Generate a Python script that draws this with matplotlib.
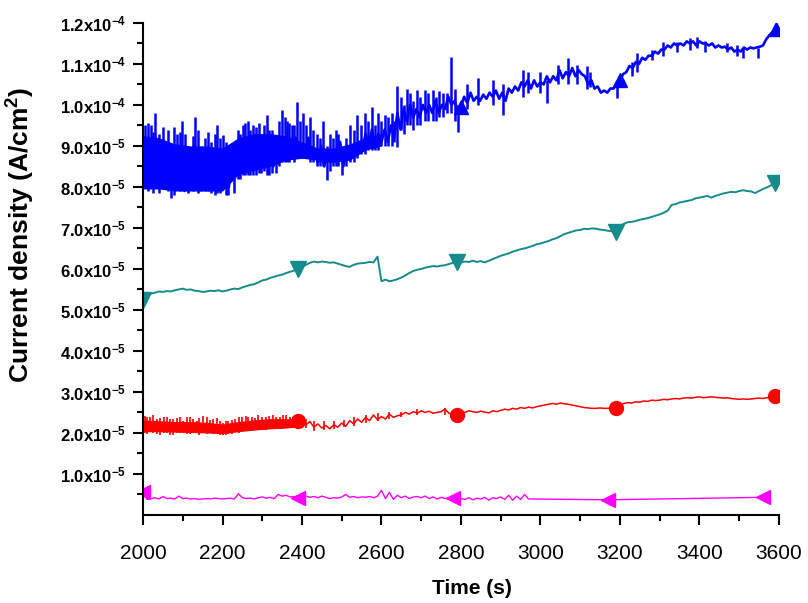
import numpy as np
import matplotlib
matplotlib.use('Agg')
import matplotlib.pyplot as plt
from matplotlib.ticker import FixedLocator, NullFormatter

plt.rcParams['font.family'] = ['Liberation Sans', 'DejaVu Sans']
plt.rcParams['mathtext.fontset'] = 'custom'
plt.rcParams['mathtext.rm'] = 'Liberation Sans'
plt.rcParams['mathtext.bf'] = 'Liberation Sans:bold'
plt.rcParams['mathtext.default'] = 'bf'

SCALE = 1e-5  # values below are in units of 1e-5 A/cm2

# blue series, one value every 8 s from 2000 s
blue = [
    8.90, 8.20, 9.10, 8.00, 9.20, 8.30, 8.90, 8.00, 9.00, 8.20,
    8.80, 8.10, 9.00, 7.90, 8.80, 8.20, 9.00, 8.00, 8.70, 8.00,
    8.80, 8.10, 8.70, 8.00, 8.90, 7.95, 8.80, 8.00, 8.60, 8.30,
    9.10, 8.50, 9.20, 8.40, 9.00, 8.50, 9.20, 8.50, 9.10, 8.60,
    9.10, 8.50, 9.20, 8.70, 9.10, 8.80, 9.00, 8.70, 9.20, 8.80,
    9.00, 8.80, 9.20, 8.70, 8.90, 8.60, 9.00, 8.50, 8.80, 8.60,
    8.90, 8.60, 9.10, 8.50, 8.90, 8.70, 9.00, 8.80, 9.10, 8.90,
    9.30, 9.00, 9.40, 9.00, 9.30, 9.10, 9.40, 9.10, 9.50, 9.20,
    9.80, 9.40, 9.90, 9.60, 10.00, 9.70, 9.90, 9.70, 10.00, 9.80,
    10.00, 9.80, 10.10, 9.80, 10.00, 9.90, 10.20, 10.00, 10.10, 9.85,
    9.95, 10.20, 10.05, 10.30, 10.10, 10.20, 10.10, 10.25, 10.15, 10.30,
    10.20, 10.35, 10.15, 10.30, 10.10, 10.40, 10.30, 10.45, 10.35, 10.55,
    10.45, 10.60, 10.40, 10.60, 10.45, 10.55, 10.50, 10.70, 10.55, 10.70,
    10.60, 10.85, 10.65, 10.80, 10.70, 10.90, 10.70, 10.85, 10.75, 10.70,
    10.50, 10.60, 10.40, 10.45, 10.30, 10.35, 10.30, 10.40, 10.40, 10.55,
    10.60, 10.75, 10.80, 10.95, 10.90, 11.05, 11.00, 11.15, 11.10, 11.20,
    11.20, 11.30, 11.25, 11.35, 11.35, 11.45, 11.40, 11.50, 11.45, 11.50,
    11.45, 11.55, 11.50, 11.55, 11.45, 11.55, 11.50, 11.50, 11.45, 11.50,
    11.40, 11.45, 11.40, 11.42, 11.35, 11.40, 11.30, 11.35, 11.30, 11.40,
    11.35, 11.40, 11.38, 11.40, 11.42, 11.45, 11.60, 11.70, 11.78, 11.85,
]

# solid core of the blue noise, every 40 s from 2000 s to 2600 s
blue_band_lo = [7.95, 7.95, 7.90, 7.90, 7.90, 7.90, 8.30, 8.40, 8.50, 8.65,
                8.70, 8.65, 8.60, 8.65, 8.90, 9.00]
blue_band_hi = [9.25, 9.20, 9.05, 9.00, 9.00, 8.95, 9.20, 9.30, 9.30, 9.25,
                9.10, 8.95, 8.95, 9.05, 9.20, 9.30]

# single noise spikes of the blue series: time, bottom, top
blue_spike_t = [2006, 2012, 2020, 2024, 2030, 2040, 2050, 2062, 2070, 2078,
                2085, 2092, 2098, 2105, 2113, 2125, 2131, 2138, 2145, 2156,
                2163, 2172, 2180, 2186, 2193, 2201, 2208, 2215, 2228, 2238,
                2245, 2252, 2257, 2263, 2270, 2277, 2284, 2291, 2298, 2305,
                2312, 2318, 2325, 2335, 2342, 2350, 2356, 2362, 2368, 2375,
                2381, 2387, 2395, 2403, 2410, 2420, 2428, 2438, 2445, 2453,
                2463, 2470, 2478, 2485, 2491, 2500, 2510, 2521, 2530, 2538,
                2548, 2558, 2566, 2576, 2583, 2591, 2600, 2609, 2617, 2626,
                2632, 2639, 2650, 2657, 2664, 2672, 2680, 2689, 2697, 2710,
                2718, 2730, 2738, 2745, 2755, 2765, 2776, 2785, 2792, 2815,
                2843, 2881, 2906, 2956, 2969, 2999, 3016, 3044, 3070, 3092,
                3117, 3125, 3192, 3230, 3243, 3281, 3309, 3344, 3376, 3394,
                3414, 3469, 3494, 3510, 3547]
blue_spike_lo = [8.00, 7.90, 8.00, 7.85, 8.10, 7.85, 8.00, 7.90, 7.73, 7.80,
                 8.00, 7.90, 8.00, 8.00, 7.85, 7.90, 8.00, 7.85, 7.90, 7.90,
                 7.90, 7.85, 7.80, 7.85, 7.85, 8.00, 7.80, 7.80, 7.85, 8.20,
                 8.20, 8.30, 8.30, 8.30, 8.30, 8.30, 8.30, 8.35, 8.35, 8.40,
                 8.30, 8.30, 8.35, 8.34, 8.50, 8.60, 8.60, 8.60, 8.60, 8.70,
                 8.60, 8.70, 8.70, 8.70, 8.70, 8.60, 8.60, 8.50, 8.50, 8.50,
                 8.17, 8.40, 8.50, 8.50, 8.50, 8.30, 8.50, 8.60, 8.60, 8.70,
                 8.80, 8.80, 8.90, 8.90, 8.90, 8.90, 9.00, 9.00, 9.00, 9.00,
                 9.10, 8.97, 9.40, 9.30, 9.50, 9.50, 9.40, 9.50, 9.50, 9.60,
                 9.60, 9.60, 9.60, 9.70, 9.70, 9.80, 9.80, 9.60, 9.34, 9.90,
                 10.00, 10.00, 9.76, 10.20, 10.30, 10.30, 10.05, 10.50, 10.50, 10.50,
                 10.40, 10.44, 10.17, 10.70, 10.80, 11.10, 11.20, 11.30, 11.35, 11.40,
                 11.30, 11.30, 11.20, 11.14, 11.14]
blue_spike_hi = [9.50, 9.55, 9.50, 9.35, 9.80, 9.30, 9.45, 9.40, 9.00, 9.45,
                 9.30, 9.35, 9.60, 9.30, 8.90, 9.25, 9.70, 9.40, 9.00, 9.20,
                 9.35, 9.10, 9.30, 9.50, 9.20, 9.27, 9.10, 8.80, 8.60, 9.40,
                 9.30, 9.50, 9.56, 9.60, 9.40, 9.50, 9.46, 9.55, 9.30, 9.50,
                 9.76, 9.40, 9.40, 9.00, 9.60, 9.88, 9.70, 9.60, 9.55, 9.50,
                 9.50, 10.07, 9.60, 9.80, 9.50, 9.70, 9.40, 9.30, 9.20, 9.60,
                 9.00, 9.30, 9.20, 9.40, 9.30, 8.90, 9.20, 9.50, 9.40, 9.76,
                 9.50, 9.80, 9.60, 9.95, 9.50, 9.80, 9.60, 9.76, 9.70, 9.80,
                 9.60, 10.45, 10.20, 10.00, 10.40, 10.30, 10.10, 10.36, 10.20, 10.36,
                 10.30, 10.36, 10.20, 10.35, 10.30, 10.30, 11.17, 10.40, 10.00, 10.50,
                 10.65, 10.60, 10.50, 10.85, 10.80, 10.80, 10.60, 10.97, 11.14, 10.97,
                 10.95, 10.80, 10.55, 11.05, 11.26, 11.34, 11.54, 11.54, 11.63, 11.65,
                 11.55, 11.50, 11.45, 11.40, 11.40]

# teal series, every 10 s from 2000 s
teal = [
    5.24, 5.36, 5.40, 5.42, 5.45, 5.44, 5.46, 5.45, 5.48, 5.50,
    5.52, 5.49, 5.50, 5.47, 5.46, 5.44, 5.45, 5.47, 5.46, 5.48,
    5.45, 5.47, 5.50, 5.52, 5.51, 5.55, 5.58, 5.61, 5.63, 5.67,
    5.72, 5.74, 5.78, 5.81, 5.84, 5.86, 5.90, 5.93, 5.96, 6.00,
    6.04, 6.10, 6.15, 6.18, 6.16, 6.18, 6.17, 6.15, 6.16, 6.13,
    6.10, 6.07, 6.05, 6.10, 6.13, 6.14, 6.15, 6.17, 6.16, 6.30,
    5.70, 5.74, 5.70, 5.72, 5.75, 5.79, 5.84, 5.90, 5.95, 5.98,
    6.00, 6.03, 6.05, 6.07, 6.06, 6.08, 6.09, 6.12, 6.15, 6.18,
    6.16, 6.18, 6.17, 6.20, 6.17, 6.19, 6.16, 6.20, 6.24, 6.28,
    6.32, 6.35, 6.38, 6.42, 6.45, 6.48, 6.50, 6.53, 6.56, 6.60,
    6.62, 6.65, 6.68, 6.72, 6.75, 6.80, 6.85, 6.88, 6.91, 6.94,
    6.95, 6.98, 6.97, 6.99, 6.98, 6.96, 6.95, 6.93, 6.92, 6.91,
    7.05, 7.10, 7.14, 7.15, 7.17, 7.20, 7.22, 7.24, 7.27, 7.30,
    7.33, 7.37, 7.42, 7.56, 7.58, 7.62, 7.64, 7.66, 7.68, 7.72,
    7.74, 7.76, 7.78, 7.74, 7.78, 7.81, 7.84, 7.86, 7.88, 7.87,
    7.90, 7.92, 7.90, 7.89, 7.85, 7.90, 7.95, 7.99, 8.04, 8.09,
]

# red series, every 10 s from 2000 s
red = [
    2.22, 2.10, 2.25, 2.08, 2.20, 2.10, 2.26, 2.06, 2.18, 2.10,
    2.22, 2.08, 2.20, 2.10, 2.24, 2.06, 2.18, 2.08, 2.20, 2.06,
    2.15, 2.03, 2.18, 2.06, 2.16, 2.10, 2.24, 2.12, 2.28, 2.14,
    2.28, 2.16, 2.30, 2.15, 2.26, 2.18, 2.32, 2.20, 2.28, 2.30,
    2.26, 2.20, 2.28, 2.14, 2.22, 2.12, 2.18, 2.10, 2.20, 2.14,
    2.24, 2.16, 2.30, 2.22, 2.34, 2.26, 2.38, 2.30, 2.44, 2.32,
    2.40, 2.34, 2.46, 2.38, 2.42, 2.44, 2.50, 2.46, 2.52, 2.48,
    2.54, 2.50, 2.53, 2.48, 2.50, 2.52, 2.58, 2.48, 2.46, 2.44,
    2.52, 2.50, 2.54, 2.52, 2.50, 2.53, 2.51, 2.49, 2.54, 2.52,
    2.55, 2.58, 2.56, 2.60, 2.58, 2.62, 2.60, 2.63, 2.61, 2.64,
    2.66, 2.68, 2.70, 2.72, 2.70, 2.73, 2.71, 2.70, 2.68, 2.66,
    2.64, 2.62, 2.61, 2.60, 2.60, 2.61, 2.60, 2.60, 2.61, 2.60,
    2.68, 2.72, 2.74, 2.73, 2.76, 2.75, 2.78, 2.77, 2.80, 2.79,
    2.80, 2.82, 2.81, 2.83, 2.84, 2.83, 2.85, 2.86, 2.85, 2.87,
    2.88, 2.86, 2.87, 2.88, 2.87, 2.86, 2.85, 2.86, 2.84, 2.83,
    2.82, 2.83, 2.82, 2.83, 2.84, 2.85, 2.84, 2.86, 2.87, 2.90,
]

# solid core of the red noise, every 40 s from 2000 s to 2400 s
red_band_lo = [2.03, 2.03, 2.02, 2.01, 2.00, 1.98, 2.03, 2.07, 2.10, 2.12, 2.15]
red_band_hi = [2.32, 2.30, 2.28, 2.28, 2.26, 2.22, 2.28, 2.32, 2.35, 2.35, 2.32]

# single noise spikes of the red series: time, bottom, top
red_spike_t = [2005, 2010, 2018, 2026, 2035, 2043, 2052, 2060, 2068, 2076,
               2085, 2093, 2100, 2110, 2118, 2126, 2135, 2142, 2150, 2160,
               2168, 2176, 2185, 2193, 2200, 2208, 2215, 2224, 2232, 2241,
               2250, 2258, 2265, 2274, 2282, 2290, 2300, 2310, 2318, 2326,
               2335, 2344, 2352, 2360, 2370, 2380, 2395, 2410, 2430, 2455,
               2480, 2505, 2530, 2560, 2590, 2620, 2650, 2690, 2760]
red_spike_lo = [2.00, 1.98, 2.02, 2.00, 1.98, 1.96, 2.00, 2.00, 1.95, 1.94,
                2.00, 2.00, 2.00, 1.97, 1.97, 2.00, 2.00, 1.96, 2.02, 1.98,
                2.00, 1.97, 1.98, 1.94, 1.95, 1.95, 1.97, 1.97, 2.02, 2.00,
                2.05, 2.04, 2.08, 2.05, 2.06, 2.06, 2.10, 2.08, 2.10, 2.10,
                2.12, 2.10, 2.10, 2.12, 2.15, 2.15, 2.15, 2.12, 2.05, 2.08,
                2.10, 2.15, 2.18, 2.25, 2.30, 2.35, 2.40, 2.44, 2.45]
red_spike_hi = [2.42, 2.40, 2.38, 2.44, 2.35, 2.36, 2.40, 2.40, 2.33, 2.34,
                2.36, 2.38, 2.30, 2.40, 2.38, 2.35, 2.30, 2.36, 2.42, 2.40,
                2.32, 2.33, 2.36, 2.30, 2.25, 2.28, 2.28, 2.32, 2.33, 2.38,
                2.40, 2.42, 2.38, 2.40, 2.36, 2.44, 2.40, 2.38, 2.42, 2.44,
                2.38, 2.40, 2.45, 2.44, 2.40, 2.42, 2.40, 2.35, 2.30, 2.28,
                2.30, 2.32, 2.38, 2.45, 2.48, 2.52, 2.50, 2.58, 2.62]

# magenta series, every 10 s from 2000 s to 2970 s, then two sparse points
magenta = [
    0.55, 0.38, 0.40, 0.42, 0.39, 0.45, 0.40, 0.41, 0.39, 0.46,
    0.40, 0.41, 0.39, 0.40, 0.38, 0.39, 0.40, 0.39, 0.41, 0.40,
    0.39, 0.40, 0.41, 0.39, 0.52, 0.42, 0.40, 0.41, 0.39, 0.42,
    0.44, 0.41, 0.43, 0.40, 0.50, 0.46, 0.48, 0.44, 0.45, 0.41,
    0.44, 0.46, 0.43, 0.45, 0.42, 0.46, 0.43, 0.40, 0.42, 0.41,
    0.44, 0.50, 0.43, 0.45, 0.42, 0.44, 0.43, 0.45, 0.42, 0.46,
    0.60, 0.40, 0.55, 0.38, 0.48, 0.42, 0.46, 0.40, 0.44, 0.45,
    0.42, 0.46, 0.40, 0.44, 0.39, 0.43, 0.40, 0.42, 0.41, 0.45,
    0.40, 0.38, 0.42, 0.37, 0.41, 0.39, 0.43, 0.36, 0.42, 0.40,
    0.44, 0.38, 0.48, 0.36, 0.46, 0.38, 0.50, 0.39,
    0.37, 0.43,
]
magenta_tail_t = [3170, 3560]

blue_t = np.arange(len(blue)) * 8 + 2000
blue_band_t = np.arange(len(blue_band_lo)) * 40 + 2000
teal_t = np.arange(len(teal)) * 10 + 2000
red_t = np.arange(len(red)) * 10 + 2000
red_band_t = np.arange(len(red_band_lo)) * 40 + 2000
magenta_t = np.concatenate([np.arange(len(magenta) - 2) * 10 + 2000, magenta_tail_t])

yticks = [1, 2, 3, 4, 5, 6, 7, 8, 9, 10, 11, 12]
ytick_labels = ['1.0x10$^{-5}$', '2.0x10$^{-5}$', '3.0x10$^{-5}$', '4.0x10$^{-5}$',
                '5.0x10$^{-5}$', '6.0x10$^{-5}$', '7.0x10$^{-5}$', '8.0x10$^{-5}$',
                '9.0x10$^{-5}$', '1.0x10$^{-4}$', '1.1x10$^{-4}$', '1.2x10$^{-4}$']
xticks = [2000, 2200, 2400, 2600, 2800, 3000, 3200, 3400, 3600]

BLUE = '#0000ff'
TEAL = '#168b8b'
RED = '#ff0000'
MAGENTA = '#ff00ff'

fig = plt.figure(figsize=(8.08, 6.03), dpi=100)
ax = fig.add_axes([0.177, 0.146, 0.787, 0.816])

# blue
ax.fill_between(blue_band_t, np.array(blue_band_lo) * SCALE, np.array(blue_band_hi) * SCALE,
                color=BLUE, lw=0)
ax.vlines(blue_spike_t, np.array(blue_spike_lo) * SCALE, np.array(blue_spike_hi) * SCALE,
          color=BLUE, lw=1.8)
ax.plot(blue_t, np.array(blue) * SCALE, color=BLUE, lw=1.9,
        marker='^', ms=10, markevery=[100, 150, len(blue) - 1])

# teal
ax.plot(teal_t, np.array(teal) * SCALE, color=TEAL, lw=1.4,
        marker='v', ms=11, markevery=[0, 39, 79, 119, len(teal) - 1])

# red
ax.fill_between(red_band_t, np.array(red_band_lo) * SCALE, np.array(red_band_hi) * SCALE,
                color=RED, lw=0)
ax.vlines(red_spike_t, np.array(red_spike_lo) * SCALE, np.array(red_spike_hi) * SCALE,
          color=RED, lw=1.2)
ax.plot(red_t, np.array(red) * SCALE, color=RED, lw=1.1,
        marker='o', ms=10, markevery=[39, 79, 119, len(red) - 1])

# magenta
ax.plot(magenta_t, np.array(magenta) * SCALE, color=MAGENTA, lw=1.0,
        marker='<', ms=10, markevery=[0, 39, 78, len(magenta) - 2, len(magenta) - 1])

ax.set_xlim(2000, 3600)
ax.set_ylim(0, 12 * SCALE)

ax.spines['top'].set_visible(False)
ax.spines['right'].set_visible(False)
ax.spines['left'].set_linewidth(1.5)
ax.spines['bottom'].set_linewidth(1.5)

ax.set_xticks(xticks)
ax.set_xticklabels([str(v) for v in xticks], fontsize=15)
ax.xaxis.set_minor_locator(FixedLocator([v + 100 for v in xticks[:-1]]))
ax.set_yticks([v * SCALE for v in yticks])
ax.set_yticklabels(ytick_labels, fontsize=12, fontweight='bold')
ax.yaxis.set_minor_locator(FixedLocator([(v - 0.5) * SCALE for v in yticks]))
ax.yaxis.set_minor_formatter(NullFormatter())

ax.tick_params(axis='both', which='major', direction='out', length=7, width=1.5)
ax.tick_params(axis='both', which='minor', direction='out', length=4, width=1.5)
ax.tick_params(axis='x', which='major', pad=14)
ax.tick_params(axis='y', which='major', pad=5)

ax.set_xlabel('Time (s)', fontsize=15, fontweight='bold')
ax.xaxis.set_label_coords(0.517, -0.13)
ax.set_ylabel('Current density (A/cm$^2$)', fontsize=19, fontweight='bold')
ax.yaxis.set_label_coords(-0.167, 0.569)

fig.savefig('out.png', dpi=100)
